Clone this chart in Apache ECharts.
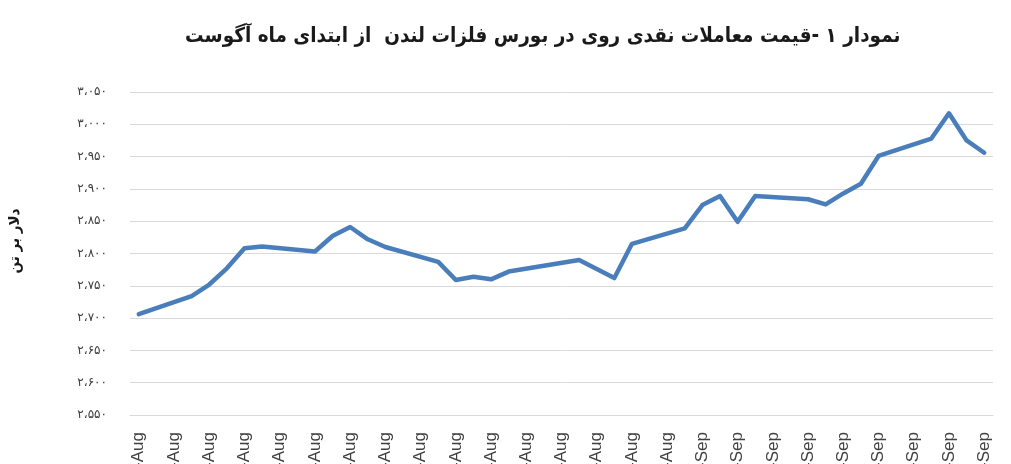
<!DOCTYPE html>
<html>
<head>
<meta charset="utf-8">
<script src="https://cdn.jsdelivr.net/npm/echarts@6/dist/echarts.min.js"></script>
<style>
html,body{margin:0;padding:0;background:#fff;}
#chart{width:1011px;height:464px;}
</style>
</head>
<body>
<div id="chart"></div>
<script>
// Calendar days shown on the date axis (Aug 1 – Sep 18)
const categories = [
  '1-Aug','2-Aug','3-Aug','4-Aug','5-Aug','6-Aug','7-Aug','8-Aug','9-Aug','10-Aug',
  '11-Aug','12-Aug','13-Aug','14-Aug','15-Aug','16-Aug','17-Aug','18-Aug','19-Aug','20-Aug',
  '21-Aug','22-Aug','23-Aug','24-Aug','25-Aug','26-Aug','27-Aug','28-Aug','29-Aug','30-Aug',
  '31-Aug','1-Sep','2-Sep','3-Sep','4-Sep','5-Sep','6-Sep','7-Sep','8-Sep','9-Sep',
  '10-Sep','11-Sep','12-Sep','13-Sep','14-Sep','15-Sep','16-Sep','17-Sep','18-Sep'
];
// Trading days with a price
const tradeDays = [
  '1-Aug','4-Aug','5-Aug','6-Aug','7-Aug','8-Aug',
  '11-Aug','12-Aug','13-Aug','14-Aug','15-Aug',
  '18-Aug','19-Aug','20-Aug','21-Aug','22-Aug',
  '26-Aug','27-Aug','28-Aug','29-Aug',
  '1-Sep','2-Sep','3-Sep','4-Sep','5-Sep',
  '8-Sep','9-Sep','10-Sep','11-Sep','12-Sep',
  '15-Sep','16-Sep','17-Sep','18-Sep'
];
const prices = [
  2706, 2734, 2752, 2777, 2808, 2811,
  2803, 2827, 2841, 2822, 2810,
  2787, 2759, 2764, 2760, 2772,
  2790, 2776, 2762, 2815,
  2839, 2875, 2889, 2849, 2889,
  2884, 2876, 2893, 2908, 2951,
  2978, 3017, 2975, 2956
];
const yMin = 2550, yMax = 3050, yStep = 50;
const titleText = 'نمودار ۱ -قیمت معاملات نقدی روی در بورس فلزات لندن  از ابتدای ماه آگوست';
const yName = 'دلار بر تن';

const seriesData = categories.map(c => {
  const i = tradeDays.indexOf(c);
  return i >= 0 ? prices[i] : null;
});

const faDigits = '۰۱۲۳۴۵۶۷۸۹';
function toFa(v) {
  const s = String(v);
  const withSep = s.length > 3 ? s.slice(0, s.length - 3) + '،' + s.slice(-3) : s;
  return withSep.replace(/[0-9]/g, d => faDigits[+d]);
}

const chart = echarts.init(document.getElementById('chart'));
chart.setOption({
  animation: false,
  backgroundColor: '#ffffff',
  title: {
    text: titleText,
    left: 180,
    top: 21,
    textStyle: {
      fontFamily: 'DejaVu Sans Condensed, DejaVu Sans, sans-serif',
      fontWeight: 'bold',
      fontSize: 20.5,
      color: '#1a1a1a'
    }
  },
  graphic: [{
    type: 'text',
    x: 15,
    y: 241,
    rotation: Math.PI / 2,
    style: {
      text: yName,
      fontFamily: 'DejaVu Sans Condensed, DejaVu Sans, sans-serif',
      fontWeight: 'bold',
      fontSize: 15,
      fill: '#1a1a1a',
      align: 'center',
      verticalAlign: 'middle'
    }
  }],
  grid: { left: 130, right: 18, top: 92, bottom: 49, outerBoundsMode: 'none', containLabel: false },
  xAxis: {
    type: 'category',
    data: categories,
    boundaryGap: true,
    axisLine: { show: true, lineStyle: { color: '#d9d9d9', width: 1 } },
    axisTick: { show: false },
    axisLabel: {
      interval: 1,
      rotate: 90,
      margin: 17,
      fontSize: 17,
      color: '#404040',
      fontFamily: 'Liberation Sans, Arial, sans-serif'
    },
    splitLine: { show: false }
  },
  yAxis: {
    type: 'value',
    min: yMin,
    max: yMax,
    interval: yStep,
    axisLine: { show: false },
    axisTick: { show: false },
    axisLabel: {
      margin: 23,
      fontSize: 12,
      color: '#3a3a3a',
      fontFamily: 'DejaVu Sans, sans-serif',
      formatter: v => toFa(v)
    },
    splitLine: { show: true, lineStyle: { color: '#d9d9d9', width: 1 } }
  },
  series: [{
    type: 'line',
    data: seriesData,
    connectNulls: true,
    showSymbol: false,
    symbol: 'none',
    lineStyle: { color: '#4a7ebb', width: 4.5, cap: 'round', join: 'round' },
    itemStyle: { color: '#4a7ebb' }
  }]
});
</script>
</body>
</html>
